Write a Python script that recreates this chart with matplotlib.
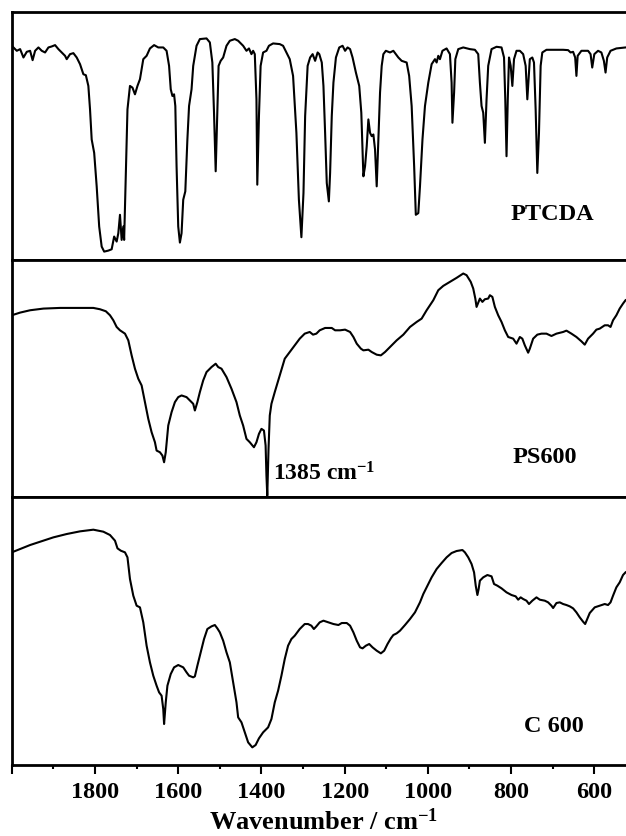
import matplotlib
matplotlib.use("Agg")
import matplotlib.pyplot as plt

# FTIR spectra, transmittance in arbitrary units
ptcda_wn = [2000, 1988, 1980, 1972, 1964, 1956, 1950, 1944, 1936, 1928, 1920, 1912, 1904, 1896, 1888, 1880,
            1872, 1868, 1860, 1852, 1844, 1836, 1828, 1822, 1816, 1812, 1808, 1802, 1796, 1790, 1784, 1778,
            1768, 1760, 1754, 1748, 1744, 1740, 1736, 1732, 1730, 1726, 1722, 1716, 1710, 1704, 1698, 1692,
            1684, 1676, 1668, 1658, 1648, 1636, 1628, 1622, 1618, 1614, 1610, 1607, 1604, 1600, 1596, 1592,
            1588, 1583, 1578, 1574, 1568, 1564, 1556, 1548, 1532, 1524, 1518, 1514, 1510, 1506, 1503, 1498,
            1492, 1484, 1476, 1464, 1456, 1444, 1436, 1430, 1424, 1420, 1416, 1412, 1410, 1406, 1402, 1396,
            1388, 1382, 1372, 1356, 1348, 1340, 1332, 1324, 1316, 1310, 1304, 1299, 1295, 1289, 1283, 1277,
            1271, 1265, 1261, 1255, 1251, 1247, 1243, 1238, 1235, 1231, 1227, 1221, 1213, 1205, 1199, 1193,
            1187, 1181, 1173, 1165, 1160, 1155, 1151, 1147, 1143, 1139, 1135, 1131, 1127, 1123, 1119, 1115,
            1111, 1107, 1101, 1091, 1083, 1071, 1063, 1051, 1045, 1039, 1033, 1029, 1023, 1019, 1013, 1007,
            999, 991, 983, 979, 975, 971, 965, 955, 947, 943, 941, 937, 934, 927, 915, 899,
            887, 879, 875, 871, 867, 863, 859, 855, 847, 835, 823, 817, 814, 811, 808, 805,
            801, 797, 793, 787, 779, 771, 765, 761, 757, 755, 749, 745, 741, 737, 733, 729,
            725, 715, 699, 675, 663, 657, 651, 646, 643, 640, 631, 615, 609, 605, 600, 591,
            583, 577, 573, 569, 561, 547, 525]
ptcda_t = [64.0, 62.5, 63.0, 60.5, 62.2, 62.5, 59.7, 62.5, 63.5, 62.5, 62.0, 63.5, 63.8, 64.2, 63.0, 62.0,
           61.0, 60.0, 61.5, 61.8, 60.5, 58.5, 55.5, 55.2, 52.0, 45.0, 36.0, 32.0, 22.0, 10.0, 4.0, 2.5,
           2.8, 3.2, 7.0, 5.5, 8.0, 13.5, 6.0, 10.0, 6.0, 26.0, 45.0, 52.0, 51.5, 49.5, 52.0, 54.0,
           60.0, 61.0, 63.2, 64.2, 63.5, 63.5, 62.5, 58.0, 51.0, 49.0, 49.5, 46.0, 28.0, 10.0, 5.2, 8.0,
           18.0, 20.5, 36.0, 46.0, 51.0, 58.0, 64.0, 66.0, 66.2, 65.0, 59.0, 44.0, 26.5, 44.0, 58.0, 59.5,
           60.5, 64.0, 65.5, 66.0, 65.5, 64.0, 62.5, 63.2, 61.5, 62.5, 61.5, 48.0, 22.5, 43.0, 58.0, 62.0,
           62.5, 64.0, 64.7, 64.5, 64.0, 62.0, 60.0, 55.0, 38.0, 18.0, 6.8, 20.0, 43.0, 58.0, 60.5, 61.5,
           59.5, 62.0, 61.5, 59.0, 52.0, 38.0, 23.0, 17.5, 26.0, 43.0, 53.0, 60.5, 63.5, 64.0, 62.5, 63.5,
           63.0, 60.5, 56.0, 52.0, 44.0, 25.0, 28.0, 34.0, 42.0, 38.0, 37.0, 37.5, 33.0, 22.0, 36.0, 50.0,
           58.0, 61.5, 62.5, 62.0, 62.5, 60.5, 59.5, 59.0, 55.0, 46.0, 28.0, 13.5, 14.0, 22.0, 36.0, 46.0,
           53.0, 58.5, 60.0, 59.0, 61.0, 60.0, 62.5, 63.2, 61.5, 53.0, 41.0, 50.0, 60.0, 63.0, 63.5, 63.0,
           62.8, 61.5, 53.0, 46.0, 44.0, 35.0, 48.0, 58.0, 63.0, 63.7, 63.5, 60.5, 48.0, 31.0, 48.0, 60.5,
           58.0, 52.0, 60.0, 62.5, 62.5, 61.5, 58.0, 48.0, 56.0, 60.0, 60.5, 59.0, 45.0, 26.0, 38.0, 58.0,
           62.0, 62.8, 62.8, 62.8, 62.7, 62.0, 62.2, 60.5, 55.0, 61.0, 62.5, 62.5, 61.5, 57.5, 61.5, 62.5,
           62.0, 59.5, 56.0, 60.5, 62.5, 63.2, 63.5]

ps600_wn = [2000, 1980, 1956, 1924, 1884, 1844, 1804, 1788, 1774, 1764, 1756, 1748, 1740, 1728, 1720, 1712,
            1704, 1696, 1688, 1680, 1672, 1664, 1656, 1652, 1644, 1638, 1634, 1630, 1624, 1616, 1608, 1600,
            1592, 1580, 1572, 1564, 1560, 1554, 1548, 1540, 1532, 1520, 1510, 1504, 1496, 1484, 1472, 1460,
            1452, 1444, 1436, 1428, 1418, 1412, 1406, 1400, 1394, 1390, 1388, 1386, 1383, 1380, 1376, 1368,
            1356, 1344, 1332, 1320, 1308, 1296, 1284, 1276, 1268, 1260, 1247, 1231, 1223, 1211, 1199, 1187,
            1179, 1171, 1161, 1155, 1143, 1135, 1123, 1113, 1103, 1091, 1075, 1059, 1043, 1027, 1015, 1003,
            987, 975, 963, 947, 931, 915, 907, 897, 891, 886, 883, 875, 869, 863, 855, 851,
            845, 839, 831, 823, 815, 807, 795, 787, 779, 773, 767, 759, 755, 747, 737, 727,
            715, 703, 691, 675, 667, 655, 643, 631, 623, 615, 603, 595, 587, 575, 567, 561,
            555, 547, 539, 531, 525]
ps600_t = [54.4, 55.2, 55.9, 56.4, 56.6, 56.6, 56.6, 56.2, 55.6, 54.4, 52.9, 50.9, 49.9, 48.9, 46.9, 42.4,
           38.4, 35.4, 33.4, 28.4, 23.4, 19.4, 16.4, 13.9, 13.4, 12.4, 10.4, 13.4, 21.4, 25.4, 28.4, 29.9,
           30.4, 29.9, 28.9, 27.9, 25.9, 28.4, 31.4, 34.9, 37.4, 38.9, 39.9, 38.9, 38.4, 35.9, 32.4, 28.4,
           24.4, 21.4, 17.4, 16.4, 14.9, 16.4, 18.9, 20.4, 19.9, 15.4, 6.4, 0.4, 14.4, 24.4, 27.9, 31.4,
           36.4, 41.4, 43.4, 45.4, 47.4, 48.9, 49.4, 48.6, 48.9, 49.9, 50.6, 50.6, 49.9, 49.9, 50.1, 49.4,
           47.9, 45.9, 44.4, 43.9, 44.1, 43.4, 42.6, 42.4, 43.4, 44.9, 46.9, 48.6, 50.9, 52.4, 53.4, 55.9,
           58.9, 61.9, 63.2, 64.4, 65.6, 66.9, 66.4, 64.4, 62.4, 59.4, 56.9, 59.4, 58.4, 59.2, 59.4, 60.4,
           59.9, 56.9, 54.4, 52.4, 49.9, 47.9, 47.4, 45.9, 47.9, 47.4, 45.4, 43.2, 44.4, 47.4, 48.6, 48.9,
           48.9, 48.2, 48.9, 49.4, 49.8, 48.9, 47.9, 46.6, 45.6, 47.4, 48.9, 50.1, 50.4, 51.4, 51.4, 50.9,
           52.9, 54.4, 56.4, 57.9, 58.9]

c600_wn = [2000, 1980, 1956, 1932, 1900, 1868, 1836, 1804, 1780, 1764, 1752, 1746, 1738, 1728, 1722, 1716,
           1708, 1700, 1692, 1684, 1676, 1668, 1660, 1652, 1646, 1640, 1636, 1634, 1630, 1626, 1618, 1610,
           1600, 1588, 1580, 1574, 1564, 1560, 1554, 1546, 1538, 1530, 1520, 1512, 1506, 1500, 1492, 1484,
           1476, 1468, 1460, 1456, 1448, 1440, 1432, 1422, 1414, 1406, 1396, 1384, 1376, 1368, 1360, 1352,
           1344, 1336, 1328, 1320, 1308, 1296, 1288, 1280, 1274, 1268, 1260, 1251, 1239, 1227, 1215, 1207,
           1195, 1187, 1179, 1171, 1163, 1157, 1149, 1141, 1133, 1123, 1113, 1105, 1097, 1089, 1083, 1075,
           1067, 1055, 1043, 1031, 1019, 1011, 1003, 991, 979, 967, 955, 943, 931, 917, 911, 903,
           895, 889, 885, 881, 878, 875, 867, 857, 847, 841, 833, 823, 811, 799, 789, 783,
           777, 771, 763, 757, 749, 739, 731, 719, 711, 703, 699, 691, 683, 675, 667, 659,
           651, 643, 635, 627, 622, 617, 611, 599, 587, 575, 567, 561, 555, 547, 539, 531,
           525]
c600_t = [63.8, 64.8, 66.0, 67.0, 68.3, 69.3, 70.1, 70.6, 70.0, 69.0, 67.3, 65.0, 64.3, 63.8, 62.3, 55.8,
          50.8, 47.8, 47.3, 42.8, 35.8, 30.8, 26.8, 23.8, 21.8, 20.8, 16.8, 12.3, 18.8, 23.8, 27.3, 29.3,
          30.0, 29.3, 27.8, 26.8, 26.3, 26.6, 29.8, 33.8, 37.8, 40.8, 41.6, 42.0, 41.0, 39.8, 37.3, 33.8,
          30.8, 24.8, 18.8, 14.3, 12.8, 9.8, 6.8, 5.3, 6.0, 8.0, 9.8, 11.3, 13.8, 18.8, 22.3, 26.8,
          31.8, 35.8, 37.8, 38.8, 40.8, 42.3, 42.3, 41.8, 40.8, 41.6, 42.8, 43.3, 42.8, 42.3, 42.0, 42.6,
          42.6, 41.8, 39.8, 37.3, 35.3, 35.0, 35.8, 36.3, 35.3, 34.3, 33.5, 34.3, 36.3, 38.0, 39.0, 39.5,
          40.3, 42.0, 43.8, 45.8, 48.8, 51.3, 53.3, 56.3, 58.8, 60.6, 62.3, 63.6, 64.2, 64.5, 63.8, 62.3,
          60.3, 57.8, 53.8, 51.0, 52.8, 55.3, 56.3, 57.0, 56.6, 54.3, 53.8, 53.0, 51.8, 51.0, 50.6, 49.6,
          50.3, 49.8, 49.3, 48.3, 49.3, 50.3, 49.6, 49.3, 48.8, 47.8, 47.1, 48.6, 48.8, 48.3, 48.0, 47.6,
          47.0, 45.8, 44.3, 43.0, 42.3, 43.8, 45.6, 47.3, 47.8, 48.3, 48.0, 48.8, 50.8, 53.3, 54.8, 57.0,
          57.8]

major_ticks = [2000, 1800, 1600, 1400, 1200, 1000, 800, 600]
major_labels = ['', '1800', '1600', '1400', '1200', '1000', '800', '600']
minor_ticks = [1900, 1700, 1500, 1300, 1100, 900, 700, 500]

plt.rcParams['font.family'] = 'Liberation Serif'
plt.rcParams['font.weight'] = 'bold'
plt.rcParams['mathtext.fontset'] = 'custom'
plt.rcParams['mathtext.rm'] = 'Liberation Serif:bold'
plt.rcParams['mathtext.bf'] = 'Liberation Serif:bold'
plt.rcParams['mathtext.it'] = 'Liberation Serif:bold:italic'

fig = plt.figure(figsize=(6.26, 8.37), dpi=100)

# three stacked panels, right edge runs slightly past the figure
left = 0.01885
width = 0.997
ax1 = fig.add_axes([left, 0.6882, width, 0.2959])
ax2 = fig.add_axes([left, 0.4050, width, 0.2832])
ax3 = fig.add_axes([left, 0.0848, width, 0.3202])

panels = [(ax1, ptcda_wn, ptcda_t, 74.0, 'PTCDA', 0.7994, 0.1655),
          (ax2, ps600_wn, ps600_t, 70.95, 'PS600', 0.8026, 0.1477),
          (ax3, c600_wn, c600_t, 80.4, 'C 600', 0.8207, 0.128)]

for ax, wn, t, top, name, tx, ty in panels:
    ax.plot(wn, t, color='black', linewidth=1.5)
    ax.set_xlim(2000, 500)
    ax.set_ylim(0, top)
    ax.set_yticks([])
    for s in ax.spines.values():
        s.set_linewidth(2.0)
    ax.text(tx, ty, name, transform=ax.transAxes, fontsize=17.5, fontweight='bold', va='baseline', ha='left')
    if ax is not ax3:
        ax.set_xticks([])

ax2.text(0.4185, 0.076, '1385 cm$^{-1}$', transform=ax2.transAxes, fontsize=17, va='baseline', ha='left')

ax3.set_xticks(major_ticks)
ax3.set_xticklabels(major_labels)
ax3.set_xticks(minor_ticks, minor=True)
ax3.tick_params(axis='x', which='major', direction='out', length=6.5, width=1.5, labelsize=17.5, pad=5)
ax3.tick_params(axis='x', which='minor', direction='out', length=3, width=1.5)
ax3.set_xlabel('Wavenumber / cm$^{-1}$', fontsize=19, fontweight='bold', labelpad=4)

plt.savefig('out.png', dpi=100)
